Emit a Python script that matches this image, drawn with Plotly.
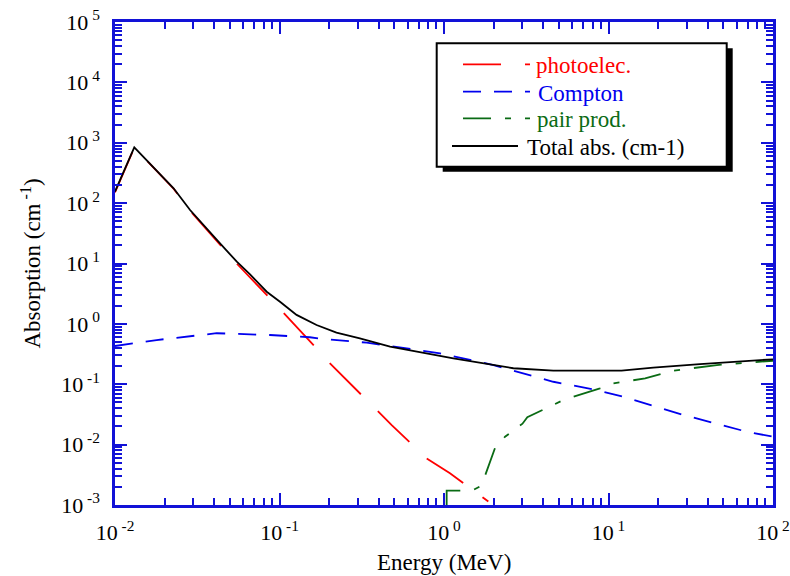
import plotly.graph_objects as go

# ---------------- data ----------------
total_x = [0.01, 0.0131, 0.0227, 0.0286, 0.0435, 0.055, 0.0662, 0.0836, 0.1007, 0.127,
           0.168, 0.203, 0.222, 0.308, 0.47, 1.14, 2.64, 4.62, 12.0, 18.7, 36.0, 100.0]
total_y = [155, 841, 176, 77, 21.6, 10.7, 6.6, 3.41, 2.33, 1.41,
           0.957, 0.792, 0.714, 0.577, 0.419, 0.269, 0.184, 0.168, 0.168, 0.188, 0.216, 0.259]

photo_x = [0.01, 0.0131, 0.0227, 0.0286, 0.0435, 0.056, 0.0876, 0.113, 0.167, 0.176,
           0.228, 0.363, 0.481, 0.785, 1.087, 1.86]
photo_y = [150, 830, 174, 75, 20.5, 9.44, 2.65, 1.24, 0.40, 0.325,
           0.161, 0.0453, 0.0211, 0.0059, 0.00335, 0.00114]

compton_x = [0.01, 0.0179, 0.0415, 0.0876, 0.153, 0.185, 0.339, 0.946, 2.0, 4.62,
             8.09, 12.3, 28.5, 69.0, 100.0]
compton_y = [0.43, 0.54, 0.70, 0.654, 0.60, 0.56, 0.489, 0.325, 0.208, 0.110,
             0.0824, 0.0622, 0.031, 0.0164, 0.0135]

pair_x = [1.038, 1.038, 1.32, 1.5, 1.69, 2.04, 2.35, 3.0, 3.21, 4.41, 5.31, 8.88, 10.7,
          16.7, 24.8, 45.5, 100.0]
pair_y = [0.001, 0.00173, 0.00173, 0.00176, 0.0021, 0.0087, 0.0135, 0.0222, 0.0284,
          0.0437, 0.0548, 0.0857, 0.1035, 0.125, 0.168, 0.208, 0.245]

x_tickvals = [0.01, 0.1, 1, 10, 100]
x_ticktext = ["10<sup> -2</sup>", "10<sup> -1</sup>", "10<sup> 0</sup>", "10<sup> 1</sup>", "10<sup> 2</sup>"]
y_tickvals = [1e-3, 1e-2, 1e-1, 1, 10, 100, 1e3, 1e4, 1e5]
y_ticktext = ["10<sup> -3</sup>", "10<sup> -2</sup>", "10<sup> -1</sup>", "10<sup> 0</sup>",
              "10<sup> 1</sup>", "10<sup> 2</sup>", "10<sup> 3</sup>", "10<sup> 4</sup>", "10<sup> 5</sup>"]

legend_names = ["photoelec.", "Compton", "pair prod.", "Total abs. (cm-1)"]

# ---------------- styles ----------------
FONT = "Liberation Serif, Times New Roman, serif"
AXC = "rgb(18,18,215)"
RED = "#ff0000"
BLUE = "#0000ee"
GREEN = "#0a6b14"
BLACK = "#000000"

W, H = 790, 576
L, R, T, B = 115, 773, 22, 505

fig = go.Figure()
fig.add_trace(go.Scatter(x=photo_x, y=photo_y, mode="lines",
                         line=dict(color=RED, width=1.8, dash="44px,24px")))
fig.add_trace(go.Scatter(x=compton_x, y=compton_y, mode="lines",
                         line=dict(color=BLUE, width=1.8, dash="18px,13px")))
fig.add_trace(go.Scatter(x=pair_x, y=pair_y, mode="lines",
                         line=dict(color=GREEN, width=1.8, dash="28px,14px,6px,14px")))
fig.add_trace(go.Scatter(x=total_x, y=total_y, mode="lines",
                         line=dict(color=BLACK, width=1.8)))

x_minor = [k * 10.0 ** n for n in range(-2, 2) for k in range(2, 10)]
y_minor = [k * 10.0 ** n for n in range(-3, 5) for k in range(2, 10)]

axis_common = dict(
    showline=True, linecolor=AXC, linewidth=2.5, mirror="ticks",
    ticks="inside", ticklen=12, tickwidth=2, tickcolor=AXC,
    showgrid=False, zeroline=False, tickmode="array", automargin=False,
    tickfont=dict(family=FONT, size=22, color="black"),
)
fig.update_xaxes(type="log", range=[-2, 2], tickvals=x_tickvals, ticktext=x_ticktext,
                 ticklabelstandoff=6,
                 minor=dict(ticks="inside", ticklen=7, tickwidth=2, tickcolor=AXC,
                            tickvals=x_minor, showgrid=False),
                 **axis_common)
fig.update_yaxes(type="log", range=[-3, 5], tickvals=y_tickvals, ticktext=y_ticktext,
                 ticklabelstandoff=8,
                 minor=dict(ticks="inside", ticklen=7, tickwidth=2, tickcolor=AXC,
                            tickvals=y_minor, showgrid=False),
                 **axis_common)


def px(x):
    return (x - L) / (R - L)


def py(y):
    return (B - y) / (B - T)


shapes = []
annotations = []
# legend box with drop shadow
bx0, by0, bx1, by1 = 436.7, 43.3, 726.7, 166.7
shapes.append(dict(type="rect", xref="paper", yref="paper",
                   x0=px(bx0 + 6), x1=px(bx1 + 6), y0=py(by1 + 5), y1=py(by0 + 5),
                   fillcolor="black", line=dict(width=0)))
shapes.append(dict(type="rect", xref="paper", yref="paper",
                   x0=px(bx0), x1=px(bx1), y0=py(by1), y1=py(by0),
                   fillcolor="white", line=dict(color="black", width=2)))
leg_colors = [RED, BLUE, GREEN, BLACK]
leg_dash = ["38px,24px", "18px,13px", "28px,14px,6px,14px", "solid"]
leg_rows = [64.3, 91.7, 118.3, 146.0]
leg_x0 = [463, 463, 463, 452]
leg_x1 = [530, 530, 530, 518]
leg_tx = [535, 537, 536, 526]
for name, c, d, ry, a0, a1, tx in zip(legend_names, leg_colors, leg_dash, leg_rows, leg_x0, leg_x1, leg_tx):
    shapes.append(dict(type="line", xref="paper", yref="paper",
                       x0=px(a0), x1=px(a1), y0=py(ry), y1=py(ry),
                       line=dict(color=c, width=1.8, dash=d)))
    annotations.append(dict(x=px(tx), y=py(ry + 1.5), xref="paper", yref="paper",
                            text=name, showarrow=False, xanchor="left", yanchor="middle",
                            xshift=-1, font=dict(family=FONT, size=23, color=c)))

# axis titles
annotations.append(dict(x=px((L + R) / 2), y=py(562), xref="paper", yref="paper",
                        text="Energy (MeV)", showarrow=False, xanchor="center", yanchor="middle",
                        font=dict(family=FONT, size=23, color="black")))
annotations.append(dict(x=px(31), y=py((T + B) / 2), xref="paper", yref="paper",
                        text="Absorption (cm<sup> -1</sup>)", showarrow=False, textangle=-90,
                        xanchor="center", yanchor="middle",
                        font=dict(family=FONT, size=23, color="black")))

fig.update_layout(
    width=W, height=H,
    margin=dict(l=L, r=W - R, t=T, b=H - B, autoexpand=False),
    paper_bgcolor="white", plot_bgcolor="white",
    showlegend=False,
    shapes=shapes, annotations=annotations,
    font=dict(family=FONT, size=22, color="black"),
)

fig.write_html("out.html", config={"displayModeBar": False},
               post_script="document.body.style.margin='0';document.body.style.overflow='hidden';")
